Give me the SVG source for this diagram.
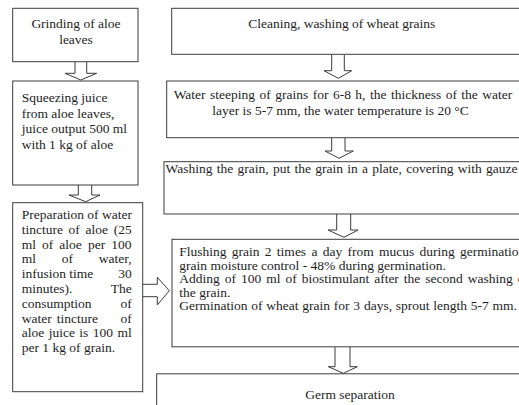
<svg xmlns="http://www.w3.org/2000/svg" width="519" height="405" viewBox="0 0 519 405" font-family="'Liberation Serif', 'DejaVu Serif', serif" font-size="13.5">
<style>
.box{fill:#fff;stroke:#3c3c3c;stroke-width:1}
.arr{fill:#fff;stroke:#3c3c3c;stroke-width:1;stroke-linejoin:miter}
text{font-family:'Liberation Serif','DejaVu Serif',serif;font-size:13.5px;fill:#1e1e1e}
.c{text-anchor:middle}
.e{text-anchor:end}
</style>
<rect width="519" height="405" fill="#fff"/>
<g id="connectors">
<path class="arr" d="M75,61.7 V73.3 H65 L80.8,80 L96.7,73.3 H86.7 V61.7"/>
<path class="arr" d="M78.3,185 V195 H69 L85.7,201.7 L100,195 H91.7 V185"/>
<path class="arr" d="M331.7,54.3 V70.7 H324 L338.3,78.3 L351.7,70.7 H344.3 V54.3"/>
<path class="arr" d="M331.7,137.7 V151 H325 L339,158.3 L353.3,151 H345 V137.7"/>
<path class="arr" d="M336.7,214 V230 H328 L344,237.3 L358,230 H350.7 V214"/>
<path class="arr" d="M335,347 V366.7 H328.3 L343.3,373.3 L357.3,366.7 H350 V347"/>
<path class="arr" d="M142.7,284.3 H157.3 V277.3 L169.3,290.7 L157.3,305 V296.7 H142.7"/>
</g>
<g id="grinding">
<rect class="box" x="12.7" y="8.3" width="125.3" height="53.4"/>
<text class="c" x="76" y="27.5">Grinding of aloe</text>
<text class="c" x="76" y="43.5">leaves</text>
</g>
<g id="squeezing">
<rect class="box" x="12.7" y="81" width="125.3" height="104"/>
<text x="21.7" y="102">Squeezing juice</text>
<text x="21.7" y="117.5">from aloe leaves,</text>
<text x="21.7" y="133">juice output 500 ml</text>
<text x="21.7" y="148.5">with 1 kg of aloe</text>
</g>
<g id="preparation">
<rect class="box" x="12.7" y="202.7" width="130" height="189"/>
<text x="21.7" y="219">Preparation of water</text>
<text x="21.7" y="233.8" word-spacing="2.3">tincture of aloe (25</text>
<text x="21.7" y="248.6" word-spacing="2.7">ml of aloe per 100</text>
<text x="21.7" y="263.4">ml</text><text x="61.7" y="263.4">of</text><text class="e" x="131.7" y="263.4">water,</text>
<text x="21.7" y="278.2">infusion</text><text x="69.3" y="278.2">time</text><text class="e" x="131.7" y="278.2">30</text>
<text x="21.7" y="293">minutes).</text><text class="e" x="131.7" y="293">The</text>
<text x="21.7" y="307.8">consumption</text><text class="e" x="131.7" y="307.8">of</text>
<text x="21.7" y="322.6">water</text><text x="56.7" y="322.6">tincture</text><text class="e" x="131.7" y="322.6">of</text>
<text x="21.7" y="337.4" word-spacing="1.1">aloe juice is 100 ml</text>
<text x="21.7" y="352.2">per 1 kg of grain.</text>
</g>
<g id="cleaning">
<rect class="box" x="171.7" y="8.3" width="370" height="46"/>
<text class="c" x="341.7" y="28">Cleaning, washing of wheat grains</text>
</g>
<g id="steeping">
<rect class="box" x="166.7" y="81" width="375" height="56.7"/>
<text class="c" x="343" y="99" word-spacing="1.1">Water steeping of grains for 6-8 h, the thickness of the water</text>
<text class="c" x="340.5" y="114.5">layer is 5-7 mm, the water temperature is 20 °C</text>
</g>
<g id="washing">
<rect class="box" x="164" y="161.7" width="378" height="52.3"/>
<text class="c" x="341.5" y="172.5" word-spacing="0.9">Washing the grain, put the grain in a plate, covering with gauze</text>
</g>
<g id="flushing">
<rect class="box" x="172" y="239.3" width="370" height="107.5"/>
<text x="179.3" y="256" word-spacing="1.9">Flushing grain 2 times a day from mucus during germination,</text>
<text x="179.3" y="269.5">grain moisture control - 48% during germination.</text>
<text x="179.3" y="283" word-spacing="1.6">Adding of 100 ml of biostimulant after the second washing of</text>
<text x="179.3" y="296.5">the grain.</text>
<text x="179.3" y="310" word-spacing="0.4">Germination of wheat grain for 3 days, sprout length 5-7 mm.</text>
</g>
<g id="germ">
<rect class="box" x="156.7" y="373.8" width="385" height="50"/>
<text class="c" x="350" y="399">Germ separation</text>
</g>
</svg>
